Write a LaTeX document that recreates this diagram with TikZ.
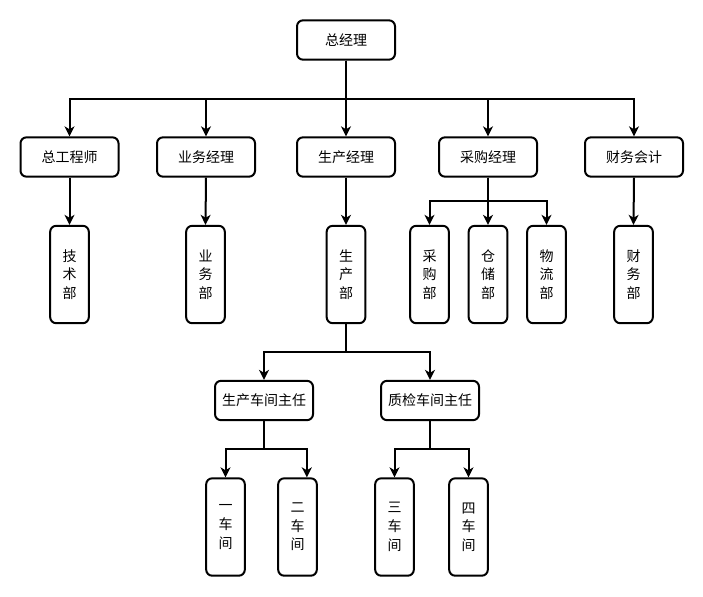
\documentclass[tikz,border=0pt]{standalone}
\usepackage{fontspec}
\setmainfont{Noto Sans CJK SC}
\usetikzlibrary{arrows.meta}
\begin{document}
\begin{tikzpicture}[x=0.75pt,y=-0.75pt,
 box/.style={draw, line width=1.5pt, rounded corners=4.5pt, inner sep=0pt, fill=white,
   font=\fontsize{10.5}{14}\selectfont},
 hbox/.style={box, minimum width=73.5pt, minimum height=29.5pt},
 vbox/.style={box, minimum width=29pt, minimum height=73pt, align=center},
 arr/.style={line width=1.5pt, -{Stealth[length=7.5pt,width=7.5pt,inset=2.2pt]}},
 ln/.style={line width=1.5pt}]
\useasboundingbox (0,0) rectangle (703,596);
% top
\node[hbox] (top) at (346,40) {总经理};
% row 2
\node[hbox] (zgcs) at (69.5,157) {总工程师};
\node[hbox] (ywjl) at (206,157) {业务经理};
\node[hbox] (scjl) at (346,157) {生产经理};
\node[hbox] (cgjl) at (488,157) {采购经理};
\node[hbox] (cwkj) at (634,157) {财务会计};
% row 3
\node[vbox] (jsb) at (69.5,274.5) {技\\术\\部};
\node[vbox] (ywb) at (205.5,274.5) {业\\务\\部};
\node[vbox] (scb) at (346,274.5) {生\\产\\部};
\node[vbox] (cgb) at (429.5,274.5) {采\\购\\部};
\node[vbox] (ccb) at (488,274.5) {仓\\储\\部};
\node[vbox] (wlb) at (546.5,274.5) {物\\流\\部};
\node[vbox] (cwb) at (633.5,274.5) {财\\务\\部};
% row 4
\node[hbox] (sczr) at (264,400.5) {生产车间主任};
\node[hbox] (zjzr) at (430,400.5) {质检车间主任};
% row 5
\node[vbox] (y1) at (225.5,527) {一\\车\\间};
\node[vbox] (y2) at (297.5,527) {二\\车\\间};
\node[vbox] (y3) at (394.5,527) {三\\车\\间};
\node[vbox] (y4) at (468.5,527) {四\\车\\间};
% buses
\coordinate (b1) at (346,99);
\coordinate (b2) at (488,201);
\coordinate (b3) at (346,352);
\coordinate (b4) at (264,449);
\coordinate (b5) at (430,449);
% connectors
\draw[arr] (top.south) -- (b1) -| (zgcs.north);
\draw[arr] (top.south) -- (b1) -| (ywjl.north);
\draw[arr] (top.south) -- (scjl.north);
\draw[arr] (top.south) -- (b1) -| (cgjl.north);
\draw[arr] (top.south) -- (b1) -| (cwkj.north);
\draw[arr] (zgcs.south) -- (jsb.north);
\draw[arr] (ywjl.south) -- (ywb.north);
\draw[arr] (scjl.south) -- (scb.north);
\draw[arr] (cwkj.south) -- (cwb.north);
\draw[arr] (cgjl.south) -- (b2) -| (cgb.north);
\draw[arr] (cgjl.south) -- (ccb.north);
\draw[arr] (cgjl.south) -- (b2) -| (wlb.north);
\draw[arr] (scb.south) -- (b3) -| (sczr.north);
\draw[arr] (scb.south) -- (b3) -| (zjzr.north);
\draw[arr] (sczr.south) -- (b4) -| (y1.north);
\draw[arr] (sczr.south) -- (b4) -| ([xshift=7pt]y2.north);
\draw[arr] (zjzr.south) -- (b5) -| (y3.north);
\draw[arr] (zjzr.south) -- (b5) -| (y4.north);
\end{tikzpicture}
\end{document}
